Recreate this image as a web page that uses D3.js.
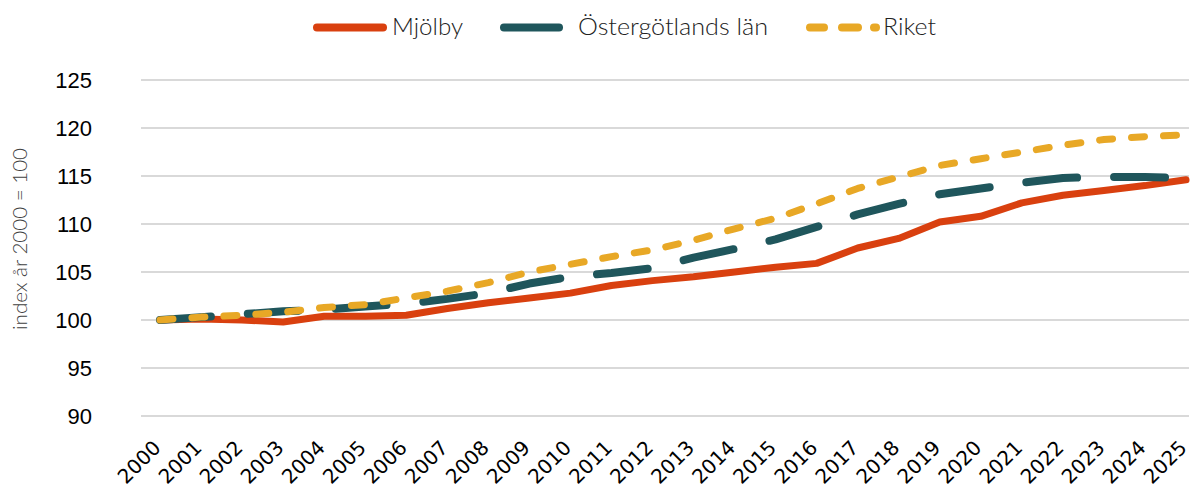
<!DOCTYPE html>
<html><head><meta charset="utf-8">
<script src="https://cdn.jsdelivr.net/npm/d3@7"></script>
<style>html,body{margin:0;padding:0;background:#fff;}svg{display:block;}</style>
</head><body>
<svg id="chart" width="1192" height="488"></svg>
<script>
const years = d3.range(2000, 2026).map(String);
const mjolby = [100,100.1,100.0,99.8,100.4,100.4,100.5,101.2,101.8,102.3,102.8,103.6,104.1,104.5,105.0,105.5,105.9,107.5,108.5,110.2,110.8,112.2,113.0,113.5,114.0,114.6];
const ostergotland = [100,100.3,100.6,100.9,101.1,101.4,101.7,102.2,102.8,103.8,104.5,104.9,105.4,106.5,107.4,108.4,109.7,111.0,112.1,113.1,113.7,114.3,114.8,114.9,114.9,114.8];
const riket = [100,100.3,100.5,100.8,101.3,101.6,102.3,103.0,103.9,105.0,105.8,106.6,107.3,108.3,109.5,110.6,112.1,113.7,114.9,116.1,116.8,117.5,118.2,118.8,119.1,119.3];
const yTicks = [90,95,100,105,110,115,120,125];
const seriesNames = ["Mjölby","Östergötlands län","Riket"];
const yTitle = "index år 2000 = 100";

const svg = d3.select("#chart");
const x = d3.scalePoint().domain(years).range([160, 1186]);
const y = d3.scaleLinear().domain([90,125]).range([416,80]);

// gridlines
svg.append("g").selectAll("line").data(yTicks).join("line")
  .attr("x1",141).attr("x2",1189)
  .attr("y1",d=>y(d)).attr("y2",d=>y(d))
  .attr("stroke","#d9d9d9").attr("stroke-width",2);

// y tick labels
svg.append("g").selectAll("text").data(yTicks).join("text")
  .attr("x",92).attr("y",d=>y(d)).attr("dy","0.36em")
  .attr("text-anchor","end")
  .attr("font-family","Liberation Sans, Arial, sans-serif").attr("font-size",22)
  .attr("fill","#000").text(d=>d);

// y title
svg.append("text").attr("transform","translate(27,239) rotate(-90)")
  .attr("text-anchor","middle")
  .attr("font-family","Lato, Open Sans, sans-serif").attr("font-weight",300)
  .attr("font-size",20).attr("fill","#404040")
  .attr("textLength",182).attr("lengthAdjust","spacingAndGlyphs")
  .text(yTitle);

// x labels
svg.append("g").selectAll("text").data(years).join("text")
  .attr("transform",d=>`translate(${x(d)+2},449) rotate(-45)`)
  .attr("text-anchor","end")
  .attr("font-family","DejaVu Sans, Verdana, sans-serif").attr("font-size",20)
  .attr("fill","#000").text(d=>d);

const styles = [
  {data: mjolby, color:"#d9400f", w:7, dash:null},
  {data: ostergotland, color:"#1f565c", w:8, dash:"51,37"},
  {data: riket, color:"#e8a826", w:7, dash:"13,19"}
];
const line = d3.line().x((d,i)=>x(years[i])).y(d=>y(d));
styles.forEach(s=>{
  svg.append("path").datum(s.data).attr("d",line)
    .attr("fill","none").attr("stroke",s.color).attr("stroke-width",s.w)
    .attr("stroke-linecap","round").attr("stroke-linejoin","round")
    .attr("stroke-dasharray",s.dash);
});

// legend
const lg = svg.append("g");
const legendFont = "Lato, Roboto, sans-serif";
const legendItems = [
  {name: seriesNames[0], color:"#d9400f", x1:317, x2:383, dash:null, tx:392, tl:71},
  {name: seriesNames[1], color:"#1f565c", x1:504, x2:559, dash:null, tx:578, tl:190},
  {name: seriesNames[2], color:"#e8a826", x1:810, x2:876, dash:"14,18,16,16,2,100", tx:883, tl:53}
];
legendItems.forEach(it=>{
  lg.append("line").attr("x1",it.x1).attr("x2",it.x2).attr("y1",27.5).attr("y2",27.5)
    .attr("stroke",it.color).attr("stroke-width",8).attr("stroke-linecap","round")
    .attr("stroke-dasharray",it.dash);
  lg.append("text").attr("x",it.tx).attr("y",35)
    .attr("font-family",legendFont).attr("font-weight",300).attr("font-size",24).attr("fill","#222")
    .attr("textLength",it.tl).attr("lengthAdjust","spacingAndGlyphs")
    .text(it.name);
});
</script>
</body></html>
